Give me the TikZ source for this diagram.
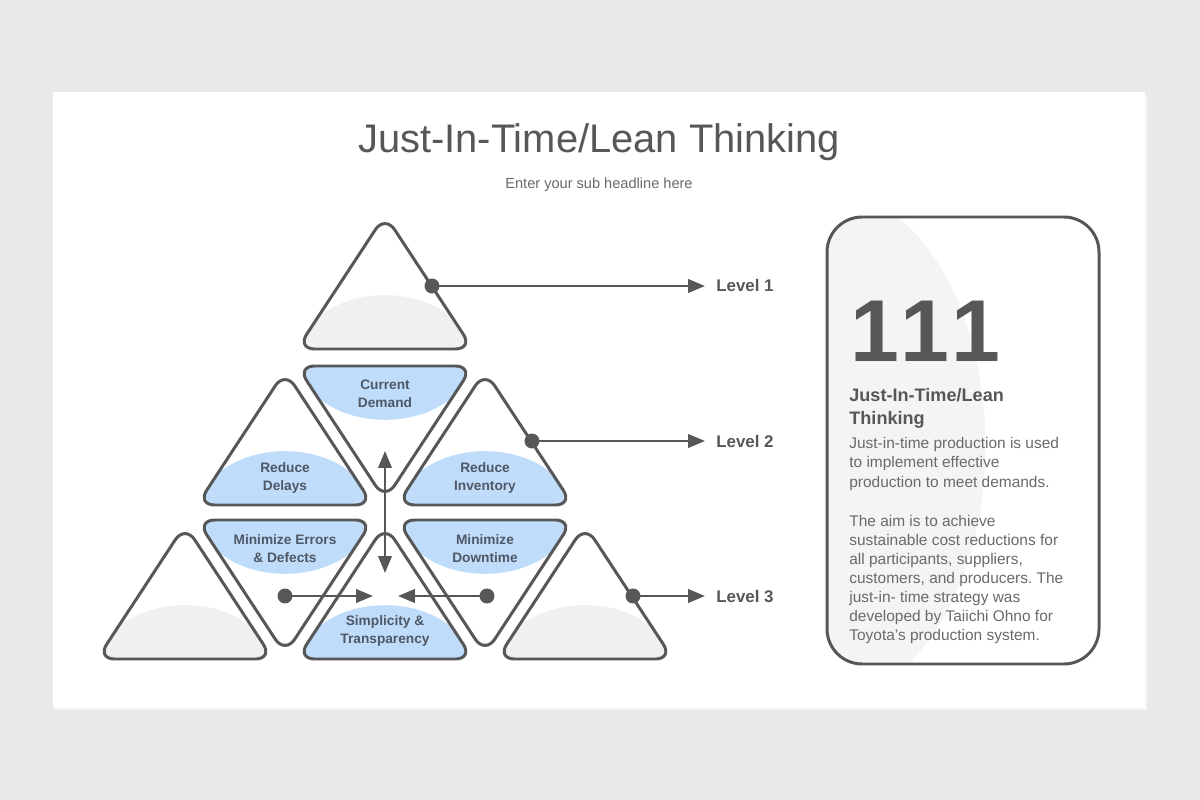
\documentclass[tikz,border=0pt]{standalone}
\usepackage{fontspec}
\setmainfont{Liberation Sans}
\usetikzlibrary{arrows.meta}
\frenchspacing
\definecolor{bg}{HTML}{E9E8EA}
\definecolor{ink}{HTML}{575757}
\definecolor{blu}{HTML}{BFDDFB}
\definecolor{dome}{HTML}{F0F0F0}
\definecolor{lbl}{HTML}{4E5866}
\definecolor{bodytxt}{HTML}{6A6A6A}
\definecolor{oval}{HTML}{F4F4F4}
\newcommand\fs[2]{\fontsize{#1}{#2}\selectfont}
\tikzset{
  tri/.style={draw=ink, line width=1.7pt, rounded corners=10pt, line join=round},
  dot/.style={circle, fill=ink, inner sep=0pt, minimum size=8.5pt},
  arr/.style={draw=ink, line width=1.5pt, -{Triangle[length=9.6pt,width=7.6pt]}},
  dbl/.style={draw=ink, line width=1.5pt, {Triangle[length=9.6pt,width=7.6pt]}-{Triangle[length=9.6pt,width=7.6pt]}},
  tlabel/.style={font=\bfseries\fs{7.8}{10.2}, text=lbl, align=center, inner sep=0pt},
  lvl/.style={font=\bfseries\fs{9.6}{11}, text=ink, anchor=base west, inner sep=0pt},
  bodyline/.style={font=\fs{8.8}{11}, text=bodytxt, anchor=base west, inner sep=0pt},
}
% up triangle: name, cx, base y, fill
\newcommand\uptri[4]{%
  \begin{scope}
    \clip[rounded corners=10pt] (#2,{#3-134}) -- ({#2+88},#3) -- ({#2-88},#3) -- cycle;
    \fill[#4] (#2,{#3+4}) ellipse [x radius=48.2pt, y radius=32.9pt];
  \end{scope}
  \draw[tri] (#2,{#3-134}) coordinate (#1-a) -- ({#2+88},#3) coordinate (#1-r) -- ({#2-88},#3) coordinate (#1-l) -- cycle;
}
% down triangle: name, cx, top y, fill
\newcommand\dntri[4]{%
  \begin{scope}
    \clip[rounded corners=10pt] ({#2-88},#3) -- ({#2+88},#3) -- (#2,{#3+134}) -- cycle;
    \fill[#4] (#2,{#3-4}) ellipse [x radius=48.2pt, y radius=32.9pt];
  \end{scope}
  \draw[tri] ({#2-88},#3) coordinate (#1-l) -- ({#2+88},#3) coordinate (#1-r) -- (#2,{#3+134}) coordinate (#1-b) -- cycle;
}
\begin{document}
\begin{tikzpicture}[x=0.02cm, y=-0.02cm]
\useasboundingbox (0,0) rectangle (1200,800);
\fill[bg] (0,0) rectangle (1200,800);
\fill[black!4] (55,95) rectangle (1147,710);
\fill[white] (53,92) rectangle (1145,708);

% titles
\node[font=\fs{22.7}{27}, text=ink, anchor=base, inner sep=0pt] (title) at (599,153) {Just-In-Time/Lean Thinking};
\node[font=\fs{8.3}{10}, text=bodytxt, anchor=base, inner sep=0pt] (sub) at (599,189) {Enter your sub headline here};

% triangles
\uptri{t1}{385}{349}{dome}
\uptri{t2l}{285}{505}{blu}
\uptri{t2r}{485}{505}{blu}
\dntri{t2m}{385}{366}{blu}
\uptri{t3l}{185}{659}{dome}
\uptri{t3m}{385}{659}{blu}
\uptri{t3r}{585}{659}{dome}
\dntri{t3a}{285}{520}{blu}
\dntri{t3b}{485}{520}{blu}

% triangle labels
\node[tlabel] (cd) at (385,394) {Current\\Demand};
\node[tlabel] (rd) at (285,478) {Reduce\\Delays};
\node[tlabel] (ri) at (485,478) {Reduce\\Inventory};
\node[tlabel] (me) at (285,549) {Minimize Errors\\\& Defects};
\node[tlabel] (md) at (485,549) {Minimize\\Downtime};
\node[tlabel] (st) at (385,631) {Simplicity \&\\Transparency};

% level arrows
\node[dot] (d1) at (432,286) {};
\node[dot] (d2) at (532,441) {};
\node[dot] (d3) at (633,596) {};
\node[lvl] (L1) at (716,292) {Level 1};
\node[lvl] (L2) at (716,447) {Level 2};
\node[lvl] (L3) at (716,602) {Level 3};
\coordinate (e1) at (705,286);
\coordinate (e2) at (705,441);
\coordinate (e3) at (705,596);
\draw[arr] (d1.center) -- (e1);
\draw[arr] (d2.center) -- (e2);
\draw[arr] (d3.center) -- (e3);

% centre arrows
\coordinate (vt) at (385,451);
\coordinate (vb) at (385,573);
\draw[dbl] (vt) -- (vb);
\node[dot] (hl) at (285,596) {};
\node[dot] (hr) at (487,596) {};
\coordinate (hlt) at (373,596);
\coordinate (hrt) at (398,596);
\draw[arr] (hl.center) -- (hlt);
\draw[arr] (hr.center) -- (hrt);

% right panel
\begin{scope}
  \clip[rounded corners=20pt] (827,217) rectangle (1099,664);
  \fill[oval] (828,445) ellipse [x radius=89.6pt, y radius=144.6pt];
\end{scope}
\draw[draw=ink, line width=1.7pt, rounded corners=20pt] (827,217) rectangle (1099,664);

\node[font=\bfseries\fs{50}{60}, text=ink, anchor=base west, inner sep=0pt] (num) at (850,362) {1\kern0.02em1\kern0.02em1};
\node[font=\bfseries\fs{10.3}{13}, text=ink, anchor=base west, inner sep=0pt] (h1) at (849,401) {Just-In-Time/Lean};
\node[font=\bfseries\fs{10.3}{13}, text=ink, anchor=base west, inner sep=0pt] (h2) at (849,424) {Thinking};
\node[bodyline] (b1) at (849,448) {Just-in-time production is used};
\node[bodyline] (b2) at (849,467) {to implement effective};
\node[bodyline] (b3) at (849,487) {production to meet demands.};
\node[bodyline] (b4) at (849,526) {The aim is to achieve};
\node[bodyline] (b5) at (849,545) {sustainable cost reductions for};
\node[bodyline] (b6) at (849,564) {all participants, suppliers,};
\node[bodyline] (b7) at (849,583) {customers, and producers. The};
\node[bodyline] (b8) at (849,602) {just-in- time strategy was};
\node[bodyline] (b9) at (849,621) {developed by Taiichi Ohno for};
\node[bodyline] (b10) at (849,640) {Toyota's production system.};
\end{tikzpicture}
\end{document}
